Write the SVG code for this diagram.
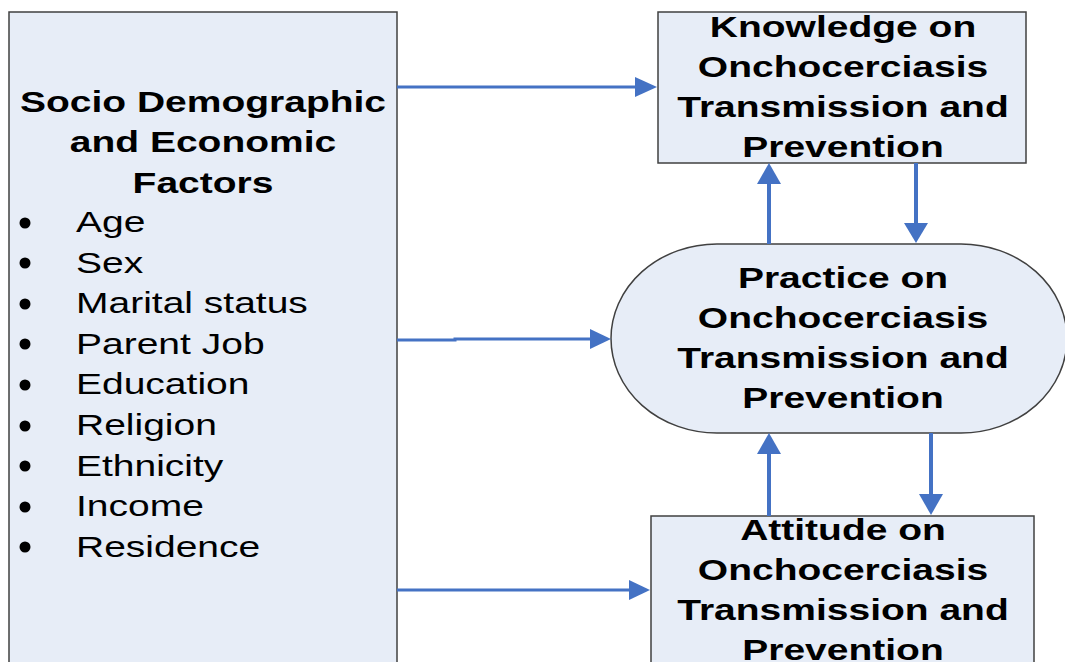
<svg xmlns="http://www.w3.org/2000/svg" width="1065" height="662" viewBox="0 0 1065 662">
  <defs>
    <style>
      .box { fill: #e7edf7; stroke: #404040; stroke-width: 1.5; }
      .title { font-family: "Liberation Sans", Arial, sans-serif; font-weight: bold; font-size: 30px; fill: #000; text-anchor: middle; }
      .item { font-family: "Liberation Sans", Arial, sans-serif; font-size: 30px; fill: #000; }
      .link { stroke: #4472c4; fill: none; }
      .h { stroke-width: 3; }
      .v { stroke-width: 4; }
      .head { fill: #4472c4; }
    </style>
  </defs>

  <rect width="1065" height="662" fill="#ffffff"/>

  <!-- Left factor box -->
  <g id="factors">
    <rect class="box" x="9" y="12" width="388" height="670"/>
    <text class="title" transform="translate(203,112) scale(1.3,1)">Socio Demographic</text>
    <text class="title" transform="translate(203,152) scale(1.3,1)">and Economic</text>
    <text class="title" transform="translate(203,193) scale(1.3,1)">Factors</text>
    <g fill="#000">
      <circle cx="25" cy="223" r="5.5"/>
      <circle cx="25" cy="263" r="5.5"/>
      <circle cx="25" cy="304" r="5.5"/>
      <circle cx="25" cy="344" r="5.5"/>
      <circle cx="25" cy="385" r="5.5"/>
      <circle cx="25" cy="426" r="5.5"/>
      <circle cx="25" cy="466" r="5.5"/>
      <circle cx="25" cy="507" r="5.5"/>
      <circle cx="25" cy="547" r="5.5"/>
    </g>
    <text class="item" transform="translate(76,232) scale(1.3,1)">Age</text>
    <text class="item" transform="translate(76,273) scale(1.3,1)">Sex</text>
    <text class="item" transform="translate(76,313) scale(1.3,1)">Marital status</text>
    <text class="item" transform="translate(76,354) scale(1.3,1)">Parent Job</text>
    <text class="item" transform="translate(76,394) scale(1.3,1)">Education</text>
    <text class="item" transform="translate(76,435) scale(1.3,1)">Religion</text>
    <text class="item" transform="translate(76,476) scale(1.3,1)">Ethnicity</text>
    <text class="item" transform="translate(76,516) scale(1.3,1)">Income</text>
    <text class="item" transform="translate(76,557) scale(1.3,1)">Residence</text>
  </g>

  <!-- Knowledge box -->
  <g id="knowledge">
    <rect class="box" x="658" y="12" width="368" height="151"/>
    <text class="title" transform="translate(843,37) scale(1.3,1)">Knowledge on</text>
    <text class="title" transform="translate(843,77) scale(1.3,1)">Onchocerciasis</text>
    <text class="title" transform="translate(843,117) scale(1.3,1)">Transmission and</text>
    <text class="title" transform="translate(843,157) scale(1.3,1)">Prevention</text>
  </g>

  <!-- Practice terminal -->
  <g id="practice">
    <rect class="box" x="611" y="244" width="456" height="189" rx="106" ry="94.5"/>
    <text class="title" transform="translate(843,288) scale(1.3,1)">Practice on</text>
    <text class="title" transform="translate(843,328) scale(1.3,1)">Onchocerciasis</text>
    <text class="title" transform="translate(843,368) scale(1.3,1)">Transmission and</text>
    <text class="title" transform="translate(843,408) scale(1.3,1)">Prevention</text>
  </g>

  <!-- Attitude box -->
  <g id="attitude">
    <rect class="box" x="651" y="516" width="383" height="170"/>
    <text class="title" transform="translate(843,540) scale(1.3,1)">Attitude on</text>
    <text class="title" transform="translate(843,580) scale(1.3,1)">Onchocerciasis</text>
    <text class="title" transform="translate(843,620) scale(1.3,1)">Transmission and</text>
    <text class="title" transform="translate(843,660) scale(1.3,1)">Prevention</text>
  </g>

  <!-- Connectors -->
  <g id="connectors">
    <!-- factors to knowledge / practice / attitude -->
    <line class="link h" x1="397" y1="87" x2="637" y2="87"/>
    <polygon class="head" points="635,77 657,87 635,97"/>
    <polyline class="link h" points="397,340 455,340 455,339 592,339"/>
    <polygon class="head" points="590,329 611,339 590,349"/>
    <line class="link h" x1="397" y1="590" x2="631" y2="590"/>
    <polygon class="head" points="629,580 650,590 629,600"/>

    <!-- practice to knowledge -->
    <line class="link v" x1="769" y1="244" x2="769" y2="182"/>
    <polygon class="head" points="757,184 769,163 781,184"/>
    <!-- knowledge to practice -->
    <line class="link v" x1="916" y1="163" x2="916" y2="225"/>
    <polygon class="head" points="904,223 916,243 928,223"/>

    <!-- attitude to practice -->
    <line class="link v" x1="769" y1="516" x2="769" y2="452"/>
    <polygon class="head" points="757,454 769,433 781,454"/>
    <!-- practice to attitude -->
    <line class="link v" x1="931" y1="433" x2="931" y2="496"/>
    <polygon class="head" points="919,494 931,515 943,494"/>
  </g>
</svg>
